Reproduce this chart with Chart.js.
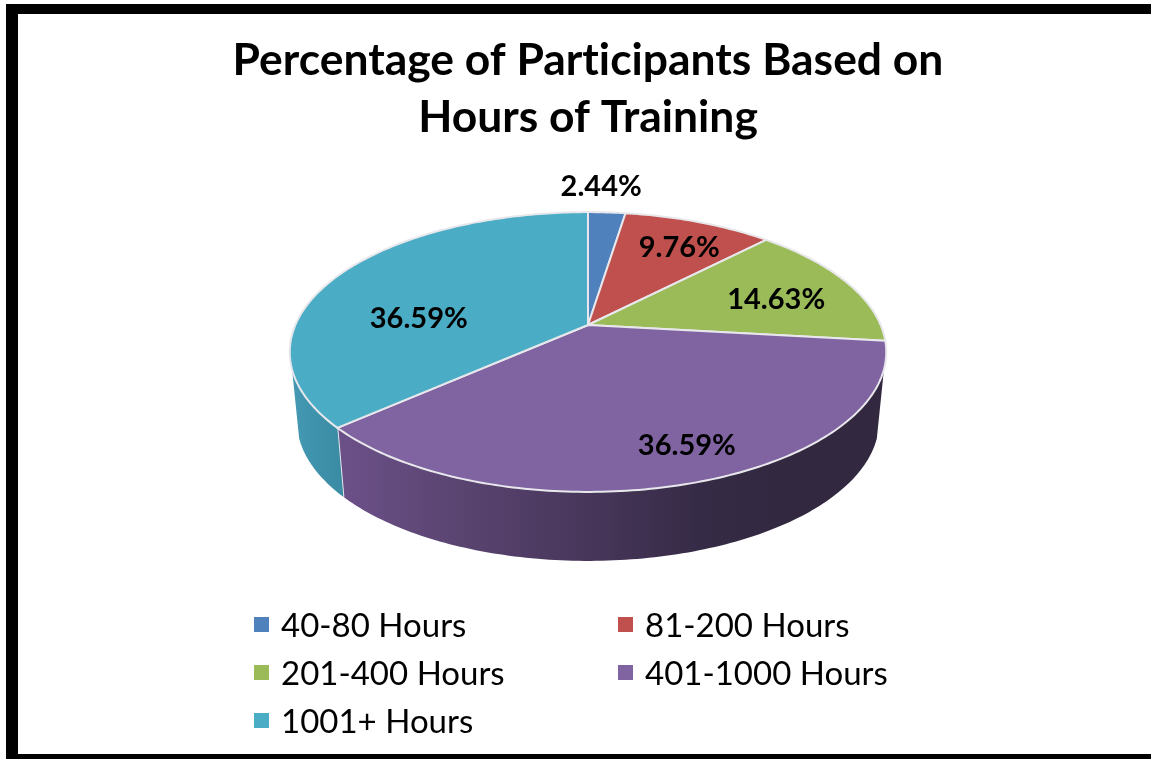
<!DOCTYPE html>
<html>
<head>
<meta charset="utf-8">
<title>Percentage of Participants Based on Hours of Training</title>
<script src="https://cdn.jsdelivr.net/npm/chart.js@4"></script>
<style>
  html, body { margin: 0; padding: 0; background: #fff; overflow: hidden; }
  #frame { position: absolute; left: 6px; top: 4px; right: 0; bottom: 0; border-style: solid; border-color: #000; border-width: 10px 0 5px 12px; }
  #myChart { position: absolute; left: 0; top: 0; }
</style>
</head>
<body>
<div id="frame"></div>
<canvas id="myChart" width="1151" height="759"></canvas>
<script>
const titleLines = ['Percentage of Participants Based on', 'Hours of Training'];
const categories = ['40-80 Hours', '81-200 Hours', '201-400 Hours', '401-1000 Hours', '1001+ Hours'];
const shares = [2.44, 9.76, 14.63, 36.59, 36.59];
const sliceColors = ['#4f81bd', '#c0504d', '#9bbb59', '#8064a2', '#4bacc6'];

// the pie is tilted: how far the rim sits from the centre, per unit of the arc's radius
const rimX = 294.4 / 170;
const rimY = 135.5 / 170;
const tilt = 0.193;
const wallDepth = 69;
const wallNarrow = 0.976;
const wallHidden = 0.31; // rim points further back than this have no visible wall

const labelRadius = [1.29, 0.8, 0.715, 0.8, 0.667];
const labelNudgeX = [-10, 0, 0, 16, 0];
const labelNudgeY = [0, 7, 6, 0, 29];

const legendCols = [254, 618];
const legendRows = [624, 672, 720];

const wallStops = {
  3: [[344, '#6b5088'], [450, '#5b4572'], [590, '#47365a'], [700, '#362b46'], [780, '#322840']],
  4: [[292, '#4499b3'], [344, '#3a8aa3']]
};

function project(arc, angle, r) {
  const w = 1 - tilt * Math.sin(angle) * r;
  return {
    x: arc.x + arc.outerRadius * rimX * r * Math.cos(angle) / w,
    y: arc.y + arc.outerRadius * rimY * r * Math.sin(angle) / w
  };
}

function arcPoints(arc, from, to) {
  const steps = Math.max(2, Math.ceil(Math.abs(to - from) * 60));
  const pts = [];
  for (let i = 0; i <= steps; i++) {
    pts.push(project(arc, from + (to - from) * i / steps, 1));
  }
  return pts;
}

function drawWall(ctx, chart, arc, index) {
  const hidden = Math.asin(wallHidden);
  const from = Math.max(arc.startAngle, hidden);
  const to = Math.min(arc.endAngle, Math.PI - hidden);
  if (to <= from) return;
  const top = arcPoints(arc, from, to);
  const bottom = top.map(p => ({ x: arc.x + (p.x - arc.x) * wallNarrow, y: p.y + wallDepth })).reverse();
  const grad = ctx.createLinearGradient(0, 0, chart.width, 0);
  wallStops[index].forEach(s => grad.addColorStop(s[0] / chart.width, s[1]));
  ctx.beginPath();
  top.concat(bottom).forEach((p, i) => i ? ctx.lineTo(p.x, p.y) : ctx.moveTo(p.x, p.y));
  ctx.closePath();
  ctx.fillStyle = grad;
  ctx.fill();
  // light seam where the two walls meet
  if (index === 3) {
    const a = top[top.length - 1];
    const b = bottom[0];
    ctx.beginPath();
    ctx.moveTo(a.x, a.y);
    ctx.lineTo(b.x, b.y);
    ctx.strokeStyle = arc.options.borderColor;
    ctx.lineWidth = arc.options.borderWidth;
    ctx.stroke();
  }
}

function drawTop(ctx, arc) {
  ctx.beginPath();
  ctx.moveTo(arc.x, arc.y);
  arcPoints(arc, arc.startAngle, arc.endAngle).forEach(p => ctx.lineTo(p.x, p.y));
  ctx.closePath();
  ctx.fillStyle = arc.options.backgroundColor;
  ctx.fill();
  ctx.strokeStyle = arc.options.borderColor;
  ctx.lineWidth = arc.options.borderWidth;
  ctx.lineJoin = 'round';
  ctx.stroke();
}

const tiltedPie = {
  id: 'tiltedPie',
  beforeDraw(chart) {
    // any letter spacing turns off the Lato "ti" ligature in the title
    chart.ctx.letterSpacing = '0.01px';
  },
  beforeDatasetsDraw(chart) {
    const ctx = chart.ctx;
    const arcs = chart.getDatasetMeta(0).data;
    ctx.save();
    arcs.forEach((arc, i) => { if (wallStops[i]) drawWall(ctx, chart, arc, i); });
    arcs.forEach(arc => drawTop(ctx, arc));

    // value labels
    ctx.fillStyle = '#000';
    ctx.font = 'bold 29px Lato';
    ctx.textAlign = 'center';
    ctx.textBaseline = 'middle';
    arcs.forEach((arc, i) => {
      const p = project(arc, (arc.startAngle + arc.endAngle) / 2, labelRadius[i]);
      ctx.fillText(shares[i].toFixed(2) + '%', p.x + labelNudgeX[i], p.y + labelNudgeY[i]);
    });

    // legend, two columns
    ctx.font = '33px Lato';
    ctx.textAlign = 'left';
    categories.forEach((name, i) => {
      const x = legendCols[i % 2];
      const y = legendRows[Math.floor(i / 2)];
      ctx.fillStyle = sliceColors[i];
      ctx.fillRect(x, y - 7, 15, 15);
      ctx.fillStyle = '#000';
      ctx.fillText(name, x + 27, y + 2);
    });
    ctx.restore();
    return false;
  }
};

new Chart(document.getElementById('myChart'), {
  type: 'pie',
  data: {
    labels: categories,
    datasets: [{
      data: shares,
      backgroundColor: sliceColors,
      borderColor: '#e8e8ec',
      borderWidth: 2
    }]
  },
  options: {
    responsive: false,
    animation: false,
    layout: { padding: { left: 25, right: 0, top: 0, bottom: 264 } },
    plugins: {
      legend: { display: false },
      tooltip: { enabled: false },
      title: {
        display: true,
        text: titleLines,
        color: '#000',
        font: { family: 'Lato', size: 44.4, weight: 'bold', lineHeight: 1.284 },
        padding: { top: 32, bottom: 9 }
      }
    }
  },
  plugins: [tiltedPie]
});
</script>
</body>
</html>
